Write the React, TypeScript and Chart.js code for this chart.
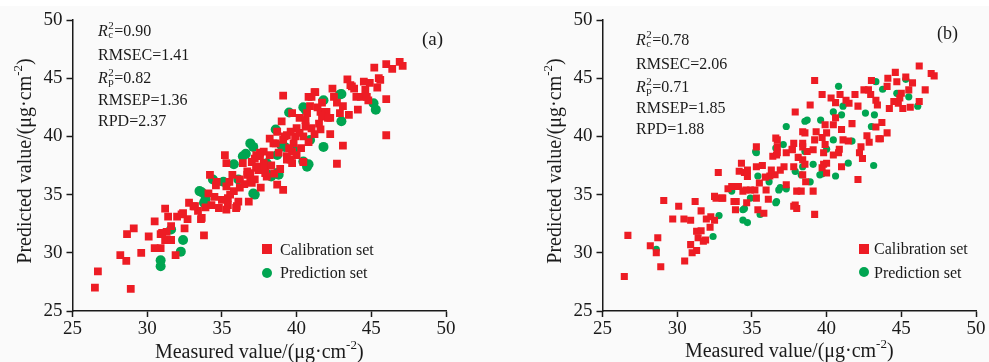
import React, { useEffect, useRef } from "react";
import { Chart, registerables } from "chart.js";

Chart.register(...registerables);

// ---------- data ----------
const xTicks = [25, 30, 35, 40, 45, 50];
const yTicks = [25, 30, 35, 40, 45, 50];
const seriesNames = ["Calibration set", "Prediction set"];
const panelLabels = ["(a)", "(b)"];
const statNames = ["R2c", "RMSEC", "R2p", "RMSEP", "RPD"];
const statsA = ["0.90", "1.41", "0.82", "1.36", "2.37"];
const statsB = ["0.78", "2.06", "0.71", "1.85", "1.88"];
const xTitle = "Measured value/(μg·cm";
const yTitle = "Predicted value/(μg·cm";
const unitExp = "-2";

const calibrationA: [number, number][] = [
  [26.5, 27.0], [26.7, 28.4], [28.9, 26.9], [28.2, 29.8], [28.6, 29.3], [28.65, 31.6], [29.1, 32.1], [29.6, 30.0],
  [30.1, 31.4], [30.5, 32.7], [30.5, 30.4], [30.9, 30.4], [30.9, 31.6], [31.2, 31.1], [31.3, 31.8], [31.2, 33.8],
  [31.4, 33.1], [31.6, 32.3], [31.9, 29.8], [32.0, 33.1], [32.3, 33.3], [32.5, 32.1], [32.7, 32.9], [32.8, 34.3],
  [33.2, 34.0], [33.6, 32.9], [33.4, 33.6], [33.8, 31.5], [33.9, 33.9], [34.2, 36.7], [34.3, 34.1], [34.5, 34.8],
  [34.6, 35.8], [34.8, 33.85], [35.2, 38.4], [35.3, 33.7], [35.4, 34.7], [35.5, 36.1], [35.8, 35.3], [35.95, 33.85],
  [36.1, 34.4], [36.2, 35.6], [36.4, 37.7], [36.7, 36.7], [36.8, 34.4], [37.0, 36.0], [37.3, 37.3], [37.55, 38.3],
  [37.9, 37.3], [31.0, 31.7], [31.6, 31.1], [32.4, 33.4], [33.1, 34.0], [33.65, 33.0], [34.1, 35.1], [34.65, 36.1],
  [35.0, 34.55], [35.3, 35.7], [35.4, 34.1], [35.55, 35.0], [36.0, 34.0], [35.3, 37.7], [35.7, 36.7], [36.2, 36.3],
  [36.7, 37.0], [36.9, 36.1], [37.2, 38.1], [37.45, 37.1], [37.8, 38.7], [38.0, 36.55], [38.45, 39.4], [39.35, 38.0],
  [39.7, 38.7], [39.9, 40.0], [39.2, 40.0], [38.7, 40.4], [38.2, 38.4], [37.3, 38.4],
  [39.1, 43.5], [45.2, 45.9], [46.0, 46.2], [46.4, 45.8], [46.9, 46.4], [47.1, 46.05], [45.6, 44.85], [46.0, 43.2],
  [46.0, 40.1], [42.7, 37.65], [43.1, 39.2], [42.25, 40.2], [43.4, 44.9], [43.6, 44.4], [43.85, 44.1], [44.5, 44.7],
  [44.6, 44.0], [45.4, 44.2], [44.8, 43.1], [44.3, 43.4], [44.0, 43.4], [42.4, 44.1], [42.5, 43.4], [41.25, 43.8],
  [41.0, 43.4], [40.8, 43.4], [41.7, 42.9], [42.7, 42.9], [43.1, 42.6], [42.9, 42.0], [44.1, 42.3], [43.5, 41.85],
  [42.0, 42.1], [42.25, 41.6], [41.7, 41.7], [40.9, 42.6], [40.7, 42.0], [39.7, 42.0], [40.2, 41.6], [41.5, 41.1],
  [41.0, 40.7], [40.6, 40.85], [40.0, 40.7], [39.6, 40.4], [39.35, 40.1], [40.45, 40.0], [39.1, 39.7], [39.8, 39.4],
  [38.6, 39.4], [38.8, 38.6], [39.35, 38.3], [39.7, 37.7], [40.45, 37.8], [40.0, 38.4], [37.55, 38.6], [37.8, 37.7],
  [37.3, 37.4], [37.9, 36.85], [37.2, 36.3], [38.7, 35.85], [39.1, 35.4], [36.9, 36.85], [39.6, 38.0],
  [41.2, 43.8], [43.7, 44.3], [44.9, 44.6], [45.5, 45.0], [44.7, 43.4], [41.6, 40.6], [41.6, 42.1], [42.1, 41.6],
  [38.3, 37.5], [38.9, 37.2], [39.5, 39.0], [40.3, 39.0], [40.8, 39.5], [41.2, 40.2], [38.5, 36.8], [36.5, 35.9],
  [37.6, 35.6], [38.2, 39.8], [40.6, 41.4], [41.4, 42.5], [39.0, 41.3], [40.2, 40.3], [37.0, 37.8],
];

const predictionA: [number, number][] = [
  [30.9, 29.35], [30.9, 28.85], [31.6, 32.0], [32.4, 31.1], [32.25, 30.1], [33.65, 35.2], [33.9, 34.6], [34.4, 36.3],
  [35.3, 36.0], [35.8, 37.6], [36.4, 38.3], [37.1, 35.1], [38.1, 36.7], [33.5, 35.3], [33.8, 34.3], [35.1, 36.1],
  [36.1, 36.3], [36.9, 39.4], [36.6, 38.5], [38.7, 36.85], [38.0, 37.7], [39.0, 39.2], [39.8, 38.85], [38.7, 38.4],
  [38.6, 40.6], [39.5, 42.05], [40.45, 42.5], [41.8, 43.1], [43.0, 43.65], [45.15, 42.85], [45.3, 42.3], [39.2, 39.1],
  [40.9, 39.7], [41.8, 39.1], [43.0, 41.3], [40.8, 37.6], [40.45, 37.85], [38.8, 36.7], [38.3, 36.55], [37.1, 39.1],
  [37.2, 35.0], [42.9, 43.6], [40.6, 42.3], [40.7, 37.4],
];

const calibrationB: [number, number][] = [
  [26.46, 27.96], [26.7, 31.5], [28.2, 30.6], [28.7, 31.3], [28.6, 30.0], [28.9, 28.8], [29.1, 34.5], [29.7, 32.9],
  [30.1, 34.0], [30.45, 32.9], [30.5, 29.3], [30.9, 32.8], [30.9, 30.7], [31.0, 30.0], [31.2, 34.4], [31.3, 31.85],
  [31.3, 30.2], [31.4, 31.3], [31.6, 33.6], [31.6, 31.9], [31.75, 31.0], [31.9, 31.1], [31.95, 32.9], [32.2, 32.2],
  [32.25, 33.1], [32.5, 32.8], [32.6, 34.7], [32.75, 36.9], [33.05, 34.7], [33.4, 35.5], [33.65, 35.7], [33.8, 34.4],
  [33.9, 33.7], [34.1, 35.7], [34.15, 37.0], [34.3, 37.7], [34.4, 35.3], [34.5, 36.9], [34.65, 34.3], [34.9, 35.4],
  [35.2, 35.4], [35.3, 37.4], [35.3, 34.7], [35.4, 33.7], [35.5, 36.0], [35.7, 37.5], [35.8, 33.4], [35.95, 35.4],
  [36.1, 34.6], [36.2, 36.6], [36.55, 36.7], [36.65, 38.4],
  [34.7, 37.1], [35.3, 39.1], [35.9, 36.5], [36.3, 37.1], [36.4, 38.3], [36.7, 38.6], [36.7, 39.1], [37.15, 37.4],
  [37.3, 38.6], [37.8, 39.4], [37.7, 38.9], [38.0, 35.3], [38.3, 35.3], [38.4, 39.1], [38.4, 38.0], [38.55, 40.3],
  [37.8, 34.0], [38.0, 33.8], [36.9, 37.1], [37.3, 35.85], [33.95, 34.4], [34.6, 35.4], [33.0, 34.7], [32.5, 34.85],
  [39.2, 44.8], [39.7, 43.6], [38.9, 42.7], [37.9, 42.1], [40.3, 43.3], [40.6, 42.9], [40.9, 43.6], [41.3, 43.1],
  [41.5, 42.85], [41.9, 43.6], [42.1, 42.6], [42.5, 44.0], [42.8, 44.0], [43.0, 44.8], [42.95, 43.6], [43.3, 43.1],
  [43.4, 42.7], [44.05, 44.3], [44.1, 45.0], [44.6, 45.5], [44.7, 44.7], [45.0, 43.7], [44.9, 43.3], [44.8, 42.85],
  [45.3, 45.1], [45.75, 44.6], [45.5, 44.0], [45.6, 42.5], [46.2, 46.05], [46.6, 44.0], [46.2, 43.0], [47.0, 45.4],
  [47.2, 45.2], [44.5, 43.0], [44.2, 42.4], [45.1, 42.4], [43.3, 40.8], [43.7, 41.2], [44.05, 40.3], [43.6, 39.8],
  [42.85, 39.5], [42.7, 40.05], [42.3, 39.1], [42.2, 38.6], [42.4, 38.1], [42.1, 36.3], [41.7, 41.1], [41.0, 40.6],
  [41.1, 39.7], [41.45, 39.6], [41.0, 37.4], [40.85, 38.9], [40.6, 41.6], [40.45, 41.0], [39.9, 41.0], [40.0, 40.3],
  [39.7, 39.9], [39.3, 40.4], [39.2, 39.7], [39.1, 38.85], [38.7, 38.7], [38.4, 39.4], [38.4, 40.4], [38.1, 38.2],
  [37.7, 38.85], [39.9, 39.3], [39.8, 38.6], [40.45, 38.4], [40.8, 38.6], [39.8, 37.6], [40.0, 37.7], [39.7, 37.3],
  [38.55, 37.6], [38.4, 36.7], [38.6, 36.1], [39.1, 35.3], [37.9, 34.1], [39.2, 33.3], [40.0, 36.85], [37.8, 37.4],
  [43.5, 39.8], [36.6, 39.85], [34.7, 36.55], [36.7, 39.7],
];

const predictionB: [number, number][] = [
  [28.6, 30.3], [32.8, 33.2], [32.4, 31.4], [33.65, 35.3], [34.4, 32.8], [34.7, 32.6], [34.4, 33.7], [34.9, 34.7],
  [35.25, 38.7], [35.55, 33.3], [36.15, 36.1], [36.6, 34.3], [36.8, 35.4], [37.3, 40.85], [36.6, 39.0], [37.1, 39.3],
  [37.9, 37.0], [36.9, 35.6], [37.3, 35.5], [36.65, 34.4], [35.4, 36.6], [34.5, 33.8], [38.3, 36.7], [38.7, 41.4],
  [38.4, 37.4], [40.8, 44.3], [40.45, 42.1], [41.1, 42.6], [41.0, 41.85], [42.6, 42.0], [43.2, 41.85], [43.0, 40.85],
  [43.3, 44.7], [43.75, 44.05], [45.3, 44.9], [45.5, 43.4], [46.1, 42.6], [44.7, 43.7], [39.6, 41.4], [38.55, 41.3],
  [38.55, 38.7], [39.1, 37.6], [41.45, 37.7], [43.15, 37.5], [40.6, 36.6], [39.7, 36.8], [40.45, 39.7], [41.7, 39.6],
  [38.9, 36.1], [39.55, 36.7], [40.0, 38.9], [35.3, 38.6],
];

// ---------- styling ----------
const RED = "#ED1C24";
const GREEN = "#00A551";
const SERIF = '"Liberation Serif", "Times New Roman", serif';

type Seg = { t: string; size: number; italic?: boolean; dy?: number };

function drawSegs(ctx: CanvasRenderingContext2D, segs: Seg[], x: number, y: number, align: "left" | "center") {
  const fontOf = (s: Seg) => `${s.italic ? "italic " : ""}${s.size}px ${SERIF}`;
  let total = 0;
  for (const s of segs) {
    ctx.font = fontOf(s);
    total += ctx.measureText(s.t).width;
  }
  let cx = align === "center" ? x - total / 2 : x;
  ctx.textAlign = "left";
  ctx.textBaseline = "alphabetic";
  for (const s of segs) {
    ctx.font = fontOf(s);
    ctx.fillText(s.t, cx, y + (s.dy || 0));
    cx += ctx.measureText(s.t).width;
  }
}

function drawR(ctx: CanvasRenderingContext2D, x: number, y: number, sub: string, value: string) {
  ctx.textAlign = "left";
  ctx.textBaseline = "alphabetic";
  ctx.font = `italic 16px ${SERIF}`;
  ctx.fillText("R", x, y);
  const w = ctx.measureText("R").width + 0.5;
  ctx.font = `11px ${SERIF}`;
  ctx.fillText("2", x + w, y - 7);
  ctx.fillText(sub, x + w, y + 2);
  const w2 = Math.max(ctx.measureText("2").width, ctx.measureText(sub).width) + 0.5;
  ctx.font = `16px ${SERIF}`;
  ctx.fillText("=" + value, x + w + w2, y);
}

type PanelCfg = {
  left: number;
  width: number;
  yAxisWidth: number;
  rightPad: number;
  cal: [number, number][];
  pred: [number, number][];
  stats: string[];
  label: string;
  calRadius: number;
  predRadius: number;
  statsX: number;
  statsY: number[];
  labelX: number;
  labelY: number;
  labelSize: number;
  legendX: number;
  legendY: number[];
  legendTextX: number;
  legendTextY: number[];
  yTitleX: number;
  yTitleY: number;
  xTitleY: number;
};

function Panel({ cfg }: { cfg: PanelCfg }) {
  const ref = useRef<HTMLCanvasElement | null>(null);
  useEffect(() => {
    if (!ref.current) return;
    const annot = {
      id: "annot",
      afterDraw(chart: any) {
        const ctx: CanvasRenderingContext2D = chart.ctx;
        const ca = chart.chartArea;
        ctx.save();
        ctx.fillStyle = "#1a1a1a";
        statNames.forEach((n, i) => {
          const y = cfg.statsY[i];
          if (n === "R2c") drawR(ctx, cfg.statsX, y, "c", cfg.stats[i]);
          else if (n === "R2p") drawR(ctx, cfg.statsX, y, "p", cfg.stats[i]);
          else drawSegs(ctx, [{ t: `${n}=${cfg.stats[i]}`, size: 16 }], cfg.statsX, y, "left");
        });
        ctx.font = `${cfg.labelSize}px ${SERIF}`;
        ctx.textAlign = "right";
        ctx.textBaseline = "alphabetic";
        ctx.fillText(cfg.label, cfg.labelX, cfg.labelY);
        ctx.fillStyle = RED;
        ctx.fillRect(cfg.legendX - 5, cfg.legendY[0] - 5, 10, 10);
        ctx.fillStyle = GREEN;
        ctx.beginPath();
        ctx.arc(cfg.legendX, cfg.legendY[1], 5, 0, Math.PI * 2);
        ctx.fill();
        ctx.fillStyle = "#1a1a1a";
        seriesNames.forEach((s, i) => drawSegs(ctx, [{ t: s, size: 16 }], cfg.legendTextX, cfg.legendTextY[i], "left"));
        const cxm = (ca.left + ca.right) / 2;
        drawSegs(ctx, [{ t: xTitle, size: 20 }, { t: unitExp, size: 13, dy: -9 }, { t: ")", size: 20 }], cxm, cfg.xTitleY, "center");
        ctx.save();
        ctx.translate(cfg.yTitleX, cfg.yTitleY);
        ctx.rotate(-Math.PI / 2);
        drawSegs(ctx, [{ t: yTitle, size: 20 }, { t: unitExp, size: 13, dy: -9 }, { t: ")", size: 20 }], 0, 0, "center");
        ctx.restore();
        ctx.restore();
      },
    };
    const axisCommon = (ticks: number[], pad: number) => ({
      type: "linear" as const,
      min: 25,
      max: 50,
      afterBuildTicks: (scale: any) => {
        scale.ticks = ticks.map((v) => ({ value: v }));
      },
      ticks: { color: "#1a1a1a", font: { family: SERIF, size: 19 }, padding: pad },
      grid: { display: true, drawOnChartArea: false, drawTicks: true, tickLength: 6, tickColor: "#1a1a1a", tickWidth: 1.5 },
      border: { display: true, color: "#1a1a1a", width: 1.5 },
    });
    const chart = new Chart(ref.current, {
      type: "scatter",
      data: {
        datasets: [
          {
            label: seriesNames[0],
            data: cfg.cal.map(([x, y]) => ({ x, y })),
            pointStyle: "rect",
            pointRadius: cfg.calRadius,
            backgroundColor: RED,
            borderWidth: 0,
          },
          {
            label: seriesNames[1],
            data: cfg.pred.map(([x, y]) => ({ x, y })),
            pointStyle: "circle",
            pointRadius: cfg.predRadius,
            backgroundColor: GREEN,
            borderWidth: 0,
          },
        ],
      },
      options: {
        animation: false,
        responsive: false,
        maintainAspectRatio: false,
        events: [],
        layout: { padding: { left: 0, top: 20, right: cfg.rightPad, bottom: 0 } },
        plugins: { legend: { display: false }, tooltip: { enabled: false } },
        scales: {
          x: { ...axisCommon(xTicks, 1), afterFit: (s: any) => { s.height = 51; } },
          y: { ...axisCommon(yTicks, 4), afterFit: (s: any) => { s.width = cfg.yAxisWidth; } },
        },
      } as any,
      plugins: [annot],
    });
    return () => chart.destroy();
  }, [cfg]);
  return (
    <div style={{ position: "absolute", left: cfg.left, top: 0, width: cfg.width, height: 362 }}>
      <canvas ref={ref} width={cfg.width} height={362} style={{ display: "block", width: cfg.width, height: 362 }} />
    </div>
  );
}

const cfgA: PanelCfg = {
  left: 0,
  width: 495,
  yAxisWidth: 72.5,
  rightPad: 49,
  cal: calibrationA,
  pred: predictionA,
  stats: statsA,
  label: panelLabels[0],
  calRadius: 5.5,
  predRadius: 5,
  statsX: 98,
  statsY: [36, 60, 83, 105, 126],
  labelX: 443,
  labelY: 45,
  labelSize: 19,
  legendX: 267,
  legendY: [249, 273],
  legendTextX: 280,
  legendTextY: [255, 278],
  yTitleX: 31,
  yTitleY: 161,
  xTitleY: 358,
};

const cfgB: PanelCfg = {
  left: 494,
  width: 495,
  yAxisWidth: 108.5,
  rightPad: 13,
  cal: calibrationB,
  pred: predictionB,
  stats: statsB,
  label: panelLabels[1],
  calRadius: 5,
  predRadius: 3.6,
  statsX: 636 - 494,
  statsY: [45, 69, 92, 113, 134],
  labelX: 958 - 494,
  labelY: 39,
  labelSize: 18,
  legendX: 864 - 494,
  legendY: [249, 272],
  legendTextX: 874 - 494,
  legendTextY: [254, 278],
  yTitleX: 561 - 494,
  yTitleY: 161,
  xTitleY: 357,
};

export default function App() {
  return (
    <div style={{ position: "absolute", left: 0, top: 0, width: 989, height: 362, background: "#fff", overflow: "hidden" }}>
      <div style={{ position: "absolute", left: 0, top: 6, width: 989, height: 356, background: "#fafafa" }} />
      <Panel cfg={cfgA} />
      <Panel cfg={cfgB} />
    </div>
  );
}
